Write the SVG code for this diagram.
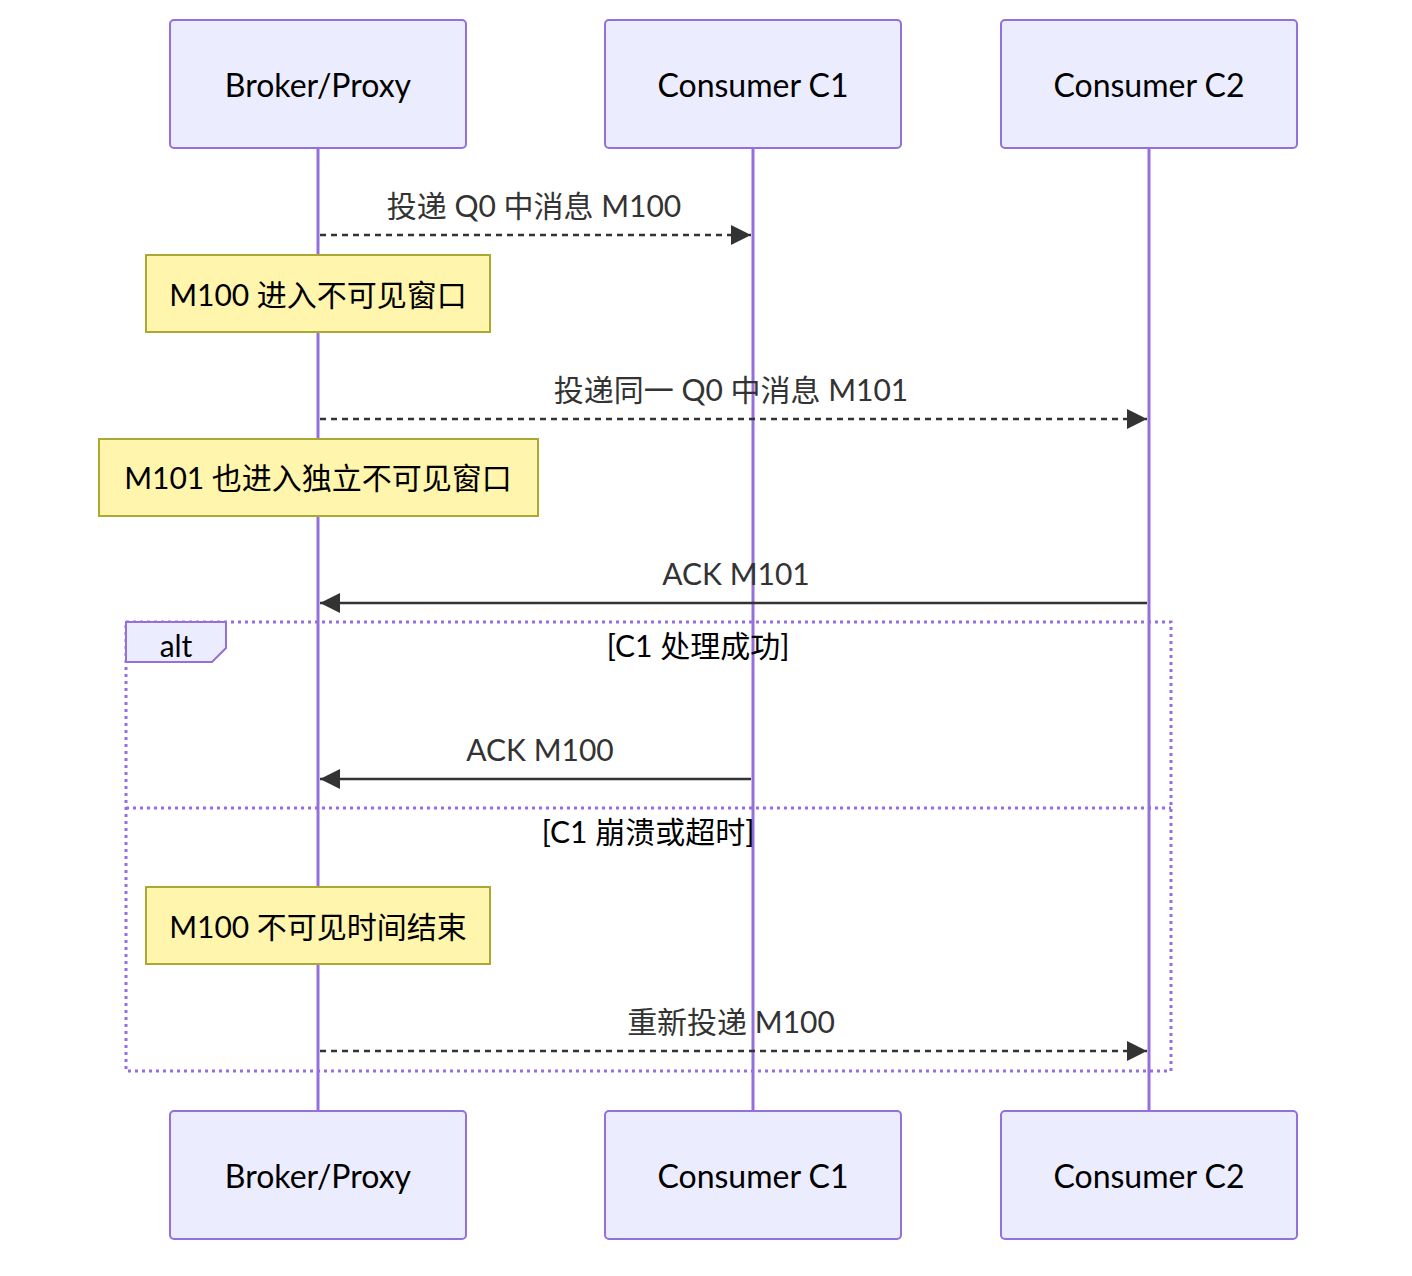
<svg xmlns="http://www.w3.org/2000/svg" width="1412" height="1276" viewBox="0 0 1412 1276">
<defs>
<style>
.actor{fill:#ECECFF;stroke:#9370DB;stroke-width:2}
.atext{font-family:"Lato","Noto Sans CJK SC",sans-serif;font-size:32px;fill:#000;text-anchor:middle;dominant-baseline:central}
.life{stroke:#9370DB;stroke-width:3}
.msg{stroke:#333;stroke-width:2.5;fill:none}
.dash{stroke-dasharray:6,5}
.mtext{font-family:"Lato","Noto Sans CJK SC",sans-serif;font-size:30px;fill:#333;text-anchor:middle}
.note{fill:#fff5ad;stroke:#aaaa33;stroke-width:2}
.ntext{font-family:"Lato","Noto Sans CJK SC",sans-serif;font-size:30px;fill:#000;text-anchor:middle;dominant-baseline:central}
.loop{fill:none;stroke:#9370DB;stroke-width:3;stroke-dasharray:3,4}
.lbox{fill:#ECECFF;stroke:#9370DB;stroke-width:2}
.ltext{font-family:"Lato","Noto Sans CJK SC",sans-serif;font-size:30px;fill:#000;text-anchor:middle}
</style>
<marker id="ah" viewBox="0 0 20 20" refX="20" refY="10" markerWidth="22" markerHeight="20" markerUnits="userSpaceOnUse" orient="auto">
<path d="M0,0 L20,10 L0,20 z" fill="#333"/>
</marker>
</defs>
<rect width="1412" height="1276" fill="#fff"/>
<g id="lifelines">
<line class="life" x1="318" y1="148" x2="318" y2="1111"/>
<line class="life" x1="753" y1="148" x2="753" y2="1111"/>
<line class="life" x1="1149" y1="148" x2="1149" y2="1111"/>
</g>
<g id="actor-broker-top"><rect class="actor" x="170" y="20" width="296" height="128" rx="4"/><text class="atext" x="318" y="84">Broker/Proxy</text></g>
<g id="actor-c1-top"><rect class="actor" x="605" y="20" width="296" height="128" rx="4"/><text class="atext" x="753" y="84">Consumer C1</text></g>
<g id="actor-c2-top"><rect class="actor" x="1001" y="20" width="296" height="128" rx="4"/><text class="atext" x="1149" y="84">Consumer C2</text></g>
<g id="actor-broker-bottom"><rect class="actor" x="170" y="1111" width="296" height="128" rx="4"/><text class="atext" x="318" y="1175">Broker/Proxy</text></g>
<g id="actor-c1-bottom"><rect class="actor" x="605" y="1111" width="296" height="128" rx="4"/><text class="atext" x="753" y="1175">Consumer C1</text></g>
<g id="actor-c2-bottom"><rect class="actor" x="1001" y="1111" width="296" height="128" rx="4"/><text class="atext" x="1149" y="1175">Consumer C2</text></g>
<g id="alt-frame">
<rect class="loop" x="126" y="622" width="1045" height="449"/>
<line class="loop" x1="126" y1="808" x2="1171" y2="808"/>
<polygon class="lbox" points="126,622 226,622 226,648 212,662 126,662"/>
<text class="ltext" x="176" y="657">alt</text>
<text class="ltext" x="698" y="657">[C1 处理成功]</text>
<text class="ltext" x="648" y="843">[C1 崩溃或超时]</text>
</g>
<g id="note-1"><rect class="note" x="146" y="255" width="344" height="77"/><text class="ntext" x="318" y="294">M100 进入不可见窗口</text></g>
<g id="note-2"><rect class="note" x="99" y="439" width="439" height="77"/><text class="ntext" x="318" y="477">M101 也进入独立不可见窗口</text></g>
<g id="note-3"><rect class="note" x="146" y="887" width="344" height="77"/><text class="ntext" x="318" y="926">M100 不可见时间结束</text></g>
<g id="connectors">
<line class="msg dash" x1="320" y1="235" x2="751" y2="235" marker-end="url(#ah)"/>
<text class="mtext" x="534" y="217">投递 Q0 中消息 M100</text>
<line class="msg dash" x1="320" y1="419" x2="1147" y2="419" marker-end="url(#ah)"/>
<text class="mtext" x="731" y="401">投递同一 Q0 中消息 M101</text>
<line class="msg" x1="1147" y1="603" x2="320" y2="603" marker-end="url(#ah)"/>
<text class="mtext" x="736" y="585">ACK M101</text>
<line class="msg" x1="751" y1="779" x2="320" y2="779" marker-end="url(#ah)"/>
<text class="mtext" x="540" y="761">ACK M100</text>
<line class="msg dash" x1="320" y1="1051" x2="1147" y2="1051" marker-end="url(#ah)"/>
<text class="mtext" x="731" y="1033">重新投递 M100</text>
</g>
</svg>
